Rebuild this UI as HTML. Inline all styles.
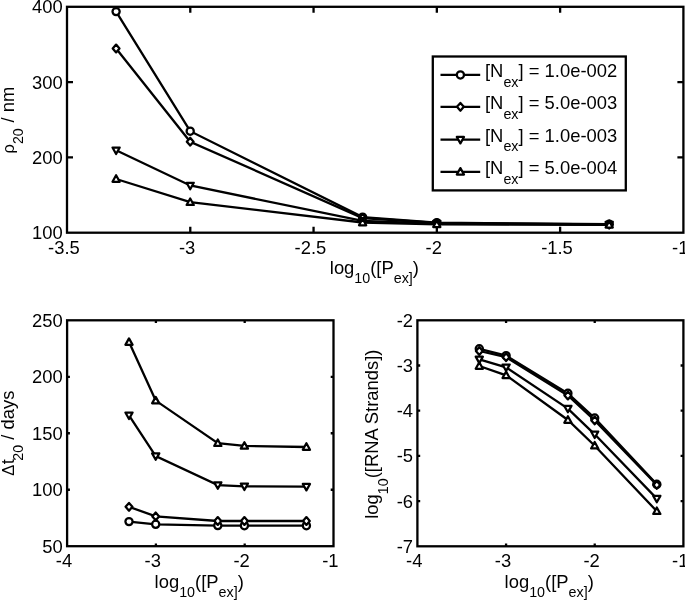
<!DOCTYPE html>
<html lang="en"><head><meta charset="utf-8"><title>Figure</title>
<style>html,body{margin:0;padding:0;background:#fff;overflow:hidden}svg{display:block}text{font-family:"Liberation Sans", Arial, Helvetica, sans-serif;font-size:18.4px;fill:#000}</style></head><body>
<svg width="685" height="600" viewBox="0 0 685 600">
<rect width="685" height="600" fill="#fff"/>
<g stroke="#000" stroke-width="2.3" stroke-linejoin="miter" stroke-linecap="butt">
<rect x="67.0" y="6.8" width="616.40" height="225.90" fill="none"/>
<path d="M190.28 232.7v-6.0M190.28 6.8v6.0M313.56 232.7v-6.0M313.56 6.8v6.0M436.84 232.7v-6.0M436.84 6.8v6.0M560.12 232.7v-6.0M560.12 6.8v6.0M67.0 157.40h6.0M683.4 157.40h-6.0M67.0 82.10h6.0M683.4 82.10h-6.0" fill="none"/>
<polyline points="116.10,11.60 190.20,131.20 362.60,217.10 436.80,222.70 609.20,224.20" fill="none"/>
<g fill="#fff" stroke-linejoin="round" stroke-width="2.25"><circle cx="116.10" cy="11.60" r="3.6"/><circle cx="190.20" cy="131.20" r="3.6"/><circle cx="362.60" cy="217.10" r="3.6"/><circle cx="436.80" cy="222.70" r="3.6"/><circle cx="609.20" cy="224.20" r="3.6"/></g>
<polyline points="116.10,48.50 190.20,141.70 362.60,218.00 436.80,223.00 609.20,224.40" fill="none"/>
<g fill="#fff" stroke-linejoin="round" stroke-width="2.25"><path d="M116.10 44.60L119.50 48.50L116.10 52.40L112.70 48.50Z"/><path d="M190.20 137.80L193.60 141.70L190.20 145.60L186.80 141.70Z"/><path d="M362.60 214.10L366.00 218.00L362.60 221.90L359.20 218.00Z"/><path d="M436.80 219.10L440.20 223.00L436.80 226.90L433.40 223.00Z"/><path d="M609.20 220.50L612.60 224.40L609.20 228.30L605.80 224.40Z"/></g>
<polyline points="116.10,150.30 190.20,185.50 362.60,220.80 436.80,223.60 609.20,224.50" fill="none"/>
<g fill="#fff" stroke-linejoin="round" stroke-width="2.25"><path d="M116.10 154.00L119.70 147.55L112.50 147.55Z"/><path d="M190.20 189.20L193.80 182.75L186.60 182.75Z"/><path d="M362.60 224.50L366.20 218.05L359.00 218.05Z"/><path d="M436.80 227.30L440.40 220.85L433.20 220.85Z"/><path d="M609.20 228.20L612.80 221.75L605.60 221.75Z"/></g>
<polyline points="116.10,179.00 190.20,202.20 362.60,222.50 436.80,224.30 609.20,224.80" fill="none"/>
<g fill="#fff" stroke-linejoin="round" stroke-width="2.25"><path d="M116.10 175.30L119.70 181.75L112.50 181.75Z"/><path d="M190.20 198.50L193.80 204.95L186.60 204.95Z"/><path d="M362.60 218.80L366.20 225.25L359.00 225.25Z"/><path d="M436.80 220.60L440.40 227.05L433.20 227.05Z"/><path d="M609.20 221.10L612.80 227.55L605.60 227.55Z"/></g>
<rect x="432.8" y="56.5" width="193.0" height="133.9" fill="#fff"/>
<path d="M440.5 74.9H480.2" fill="none"/>
<g fill="#fff" stroke-linejoin="round" stroke-width="2.25"><circle cx="460.40" cy="74.90" r="3.6"/></g>
<path d="M440.5 106.8H480.2" fill="none"/>
<g fill="#fff" stroke-linejoin="round" stroke-width="2.25"><path d="M460.40 102.90L463.80 106.80L460.40 110.70L457.00 106.80Z"/></g>
<path d="M440.5 139.7H480.2" fill="none"/>
<g fill="#fff" stroke-linejoin="round" stroke-width="2.25"><path d="M460.40 143.40L464.00 136.95L456.80 136.95Z"/></g>
<path d="M440.5 171.8H480.2" fill="none"/>
<g fill="#fff" stroke-linejoin="round" stroke-width="2.25"><path d="M460.40 168.10L464.00 174.55L456.80 174.55Z"/></g>
<rect x="67.1" y="320.3" width="266.40" height="225.90" fill="none"/>
<path d="M155.90 546.2v-2.8M155.90 320.3v2.8M244.70 546.2v-2.8M244.70 320.3v2.8M67.1 489.73h2.8M333.5 489.73h-2.8M67.1 433.25h2.8M333.5 433.25h-2.8M67.1 376.78h2.8M333.5 376.78h-2.8" fill="none"/>
<polyline points="129.00,521.60 155.70,524.30 217.80,525.60 244.40,525.70 306.40,525.70" fill="none"/>
<g fill="#fff" stroke-linejoin="round" stroke-width="2.25"><circle cx="129.00" cy="521.60" r="3.6"/><circle cx="155.70" cy="524.30" r="3.6"/><circle cx="217.80" cy="525.60" r="3.6"/><circle cx="244.40" cy="525.70" r="3.6"/><circle cx="306.40" cy="525.70" r="3.6"/></g>
<polyline points="129.00,506.80 155.70,516.40 217.80,521.00 244.40,521.00 306.40,521.00" fill="none"/>
<g fill="#fff" stroke-linejoin="round" stroke-width="2.25"><path d="M129.00 502.90L132.40 506.80L129.00 510.70L125.60 506.80Z"/><path d="M155.70 512.50L159.10 516.40L155.70 520.30L152.30 516.40Z"/><path d="M217.80 517.10L221.20 521.00L217.80 524.90L214.40 521.00Z"/><path d="M244.40 517.10L247.80 521.00L244.40 524.90L241.00 521.00Z"/><path d="M306.40 517.10L309.80 521.00L306.40 524.90L303.00 521.00Z"/></g>
<polyline points="129.00,415.30 155.70,456.10 217.80,485.10 244.40,486.30 306.40,486.70" fill="none"/>
<g fill="#fff" stroke-linejoin="round" stroke-width="2.25"><path d="M129.00 419.00L132.60 412.55L125.40 412.55Z"/><path d="M155.70 459.80L159.30 453.35L152.10 453.35Z"/><path d="M217.80 488.80L221.40 482.35L214.20 482.35Z"/><path d="M244.40 490.00L248.00 483.55L240.80 483.55Z"/><path d="M306.40 490.40L310.00 483.95L302.80 483.95Z"/></g>
<polyline points="129.00,342.10 155.70,400.60 217.80,443.20 244.40,445.90 306.40,447.00" fill="none"/>
<g fill="#fff" stroke-linejoin="round" stroke-width="2.25"><path d="M129.00 338.40L132.60 344.85L125.40 344.85Z"/><path d="M155.70 396.90L159.30 403.35L152.10 403.35Z"/><path d="M217.80 439.50L221.40 445.95L214.20 445.95Z"/><path d="M244.40 442.20L248.00 448.65L240.80 448.65Z"/><path d="M306.40 443.30L310.00 449.75L302.80 449.75Z"/></g>
<rect x="417.4" y="320.3" width="266.00" height="226.00" fill="none"/>
<path d="M506.07 546.3v-2.8M506.07 320.3v2.8M594.73 546.3v-2.8M594.73 320.3v2.8M417.4 365.50h2.8M683.4 365.50h-2.8M417.4 410.70h2.8M683.4 410.70h-2.8M417.4 455.90h2.8M683.4 455.90h-2.8M417.4 501.10h2.8M683.4 501.10h-2.8" fill="none"/>
<polyline points="479.30,348.80 506.10,355.60 567.90,393.30 594.70,418.00 656.80,484.30" fill="none"/>
<g fill="#fff" stroke-linejoin="round" stroke-width="2.25"><circle cx="479.30" cy="348.80" r="3.6"/><circle cx="506.10" cy="355.60" r="3.6"/><circle cx="567.90" cy="393.30" r="3.6"/><circle cx="594.70" cy="418.00" r="3.6"/><circle cx="656.80" cy="484.30" r="3.6"/></g>
<polyline points="479.30,351.00 506.10,357.20 567.90,395.50 594.70,420.40 656.80,484.90" fill="none"/>
<g fill="#fff" stroke-linejoin="round" stroke-width="2.25"><path d="M479.30 347.10L482.70 351.00L479.30 354.90L475.90 351.00Z"/><path d="M506.10 353.30L509.50 357.20L506.10 361.10L502.70 357.20Z"/><path d="M567.90 391.60L571.30 395.50L567.90 399.40L564.50 395.50Z"/><path d="M594.70 416.50L598.10 420.40L594.70 424.30L591.30 420.40Z"/><path d="M656.80 481.00L660.20 484.90L656.80 488.80L653.40 484.90Z"/></g>
<polyline points="479.30,359.40 506.10,367.30 567.90,408.60 594.70,434.30 656.80,498.60" fill="none"/>
<g fill="#fff" stroke-linejoin="round" stroke-width="2.25"><path d="M479.30 363.10L482.90 356.65L475.70 356.65Z"/><path d="M506.10 371.00L509.70 364.55L502.50 364.55Z"/><path d="M567.90 412.30L571.50 405.85L564.30 405.85Z"/><path d="M594.70 438.00L598.30 431.55L591.10 431.55Z"/><path d="M656.80 502.30L660.40 495.85L653.20 495.85Z"/></g>
<polyline points="479.30,366.00 506.10,375.30 567.90,420.00 594.70,445.70 656.80,511.20" fill="none"/>
<g fill="#fff" stroke-linejoin="round" stroke-width="2.25"><path d="M479.30 362.30L482.90 368.75L475.70 368.75Z"/><path d="M506.10 371.60L509.70 378.05L502.50 378.05Z"/><path d="M567.90 416.30L571.50 422.75L564.30 422.75Z"/><path d="M594.70 442.00L598.30 448.45L591.10 448.45Z"/><path d="M656.80 507.50L660.40 513.95L653.20 513.95Z"/></g>
</g>
<g opacity="0.999">
<text x="63.90" y="253.50" text-anchor="middle">-3.5</text>
<text x="187.18" y="253.50" text-anchor="middle">-3</text>
<text x="310.46" y="253.50" text-anchor="middle">-2.5</text>
<text x="433.74" y="253.50" text-anchor="middle">-2</text>
<text x="557.02" y="253.50" text-anchor="middle">-1.5</text>
<text x="680.30" y="253.50" text-anchor="middle">-1</text>
<text x="62.70" y="239.20" text-anchor="end">100</text>
<text x="62.70" y="163.90" text-anchor="end">200</text>
<text x="62.70" y="88.60" text-anchor="end">300</text>
<text x="62.70" y="13.30" text-anchor="end">400</text>
<text x="64.00" y="567.00" text-anchor="middle">-4</text>
<text x="152.80" y="567.00" text-anchor="middle">-3</text>
<text x="241.60" y="567.00" text-anchor="middle">-2</text>
<text x="330.40" y="567.00" text-anchor="middle">-1</text>
<text x="62.80" y="552.70" text-anchor="end">50</text>
<text x="62.80" y="496.23" text-anchor="end">100</text>
<text x="62.80" y="439.75" text-anchor="end">150</text>
<text x="62.80" y="383.28" text-anchor="end">200</text>
<text x="62.80" y="326.80" text-anchor="end">250</text>
<text x="414.30" y="567.10" text-anchor="middle">-4</text>
<text x="502.97" y="567.10" text-anchor="middle">-3</text>
<text x="591.63" y="567.10" text-anchor="middle">-2</text>
<text x="680.30" y="567.10" text-anchor="middle">-1</text>
<text x="413.10" y="326.80" text-anchor="end">-2</text>
<text x="413.10" y="372.00" text-anchor="end">-3</text>
<text x="413.10" y="417.20" text-anchor="end">-4</text>
<text x="413.10" y="462.40" text-anchor="end">-5</text>
<text x="413.10" y="507.60" text-anchor="end">-6</text>
<text x="413.10" y="552.80" text-anchor="end">-7</text>
<text x="485.0" y="77.30">[N<tspan font-size="14.3" dy="9.3">ex</tspan><tspan dy="-9.3">] = 1.0e-002</tspan></text>
<text x="485.0" y="109.20">[N<tspan font-size="14.3" dy="9.3">ex</tspan><tspan dy="-9.3">] = 5.0e-003</tspan></text>
<text x="485.0" y="142.10">[N<tspan font-size="14.3" dy="9.3">ex</tspan><tspan dy="-9.3">] = 1.0e-003</tspan></text>
<text x="485.0" y="174.20">[N<tspan font-size="14.3" dy="9.3">ex</tspan><tspan dy="-9.3">] = 5.0e-004</tspan></text>
<text x="329.8" y="273.9">log<tspan font-size="14.3" dy="9.3">10</tspan><tspan dy="-9.3">([P</tspan><tspan font-size="14.3" dy="9.3">ex]</tspan><tspan dy="-9.3">)</tspan></text>
<text x="154.6" y="587.7">log<tspan font-size="14.3" dy="9.3">10</tspan><tspan dy="-9.3">([P</tspan><tspan font-size="14.3" dy="9.3">ex]</tspan><tspan dy="-9.3">)</tspan></text>
<text x="504.6" y="587.7">log<tspan font-size="14.3" dy="9.3">10</tspan><tspan dy="-9.3">([P</tspan><tspan font-size="14.3" dy="9.3">ex]</tspan><tspan dy="-9.3">)</tspan></text>
<text transform="translate(14 153.5) rotate(-90)"><tspan font-size="16.5">&#961;</tspan><tspan font-size="14.3" dy="9.3">20</tspan><tspan dy="-9.3" dx="0.7"> / nm</tspan></text>
<text transform="translate(14 475.8) rotate(-90)"><tspan font-size="16.5">&#916;</tspan><tspan dx="0.6">t</tspan><tspan font-size="14.3" dy="9.3" dx="-1.6">20</tspan><tspan dy="-9.3"> / days</tspan></text>
<text transform="translate(378.3 518.8) rotate(-90)">log<tspan font-size="14.3" dy="9.3">10</tspan><tspan dy="-9.3">([RNA Strands])</tspan></text>
</g>
</svg></body></html>
